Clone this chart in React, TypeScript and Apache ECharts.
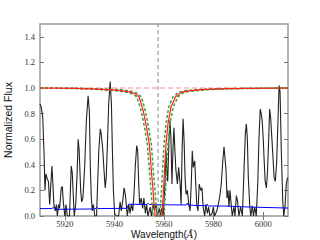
import React, { useEffect, useRef } from 'react';
import * as echarts from 'echarts';

const xTicks = [5920, 5940, 5960, 5980, 6000];
const yTicks = [0, 0.2, 0.4, 0.6, 0.8, 1.0, 1.2, 1.4];

const specWave = [
  5910.0, 5910.5, 5911.1, 5911.6, 5912.0, 5912.4, 5912.9, 5913.4, 5913.9, 5914.8,
  5915.2, 5915.6, 5916.2, 5916.6, 5917.0, 5917.5, 5917.9, 5918.6, 5919.0, 5919.4,
  5920.0, 5920.5, 5921.0, 5921.9, 5922.6, 5923.0, 5923.4, 5923.8, 5924.4, 5924.9,
  5925.4, 5925.8, 5926.4, 5926.8, 5927.3, 5928.0, 5928.7, 5929.4, 5929.9, 5930.3,
  5930.7, 5931.1, 5931.5, 5932.1, 5932.8, 5933.7, 5934.3, 5934.7, 5935.3, 5935.8,
  5936.3, 5936.7, 5937.1, 5937.7, 5938.3, 5938.8, 5939.2, 5939.6, 5940.1, 5940.8,
  5941.7, 5942.3, 5942.8, 5943.5, 5943.9, 5944.4, 5944.8, 5945.2, 5945.8, 5946.3,
  5946.8, 5947.4, 5947.9, 5948.4, 5949.0, 5949.4, 5949.8, 5950.2, 5950.8, 5951.4,
  5951.9, 5952.5, 5953.0, 5953.5, 5954.4, 5954.9, 5955.6, 5956.2, 5956.8, 5957.3,
  5958.1, 5958.6, 5959.0, 5959.7, 5960.4, 5960.8, 5961.1, 5961.5, 5962.0, 5962.4,
  5962.8, 5963.2, 5963.6, 5964.0, 5964.4, 5964.8, 5965.4, 5965.9, 5966.5, 5966.9,
  5967.3, 5967.7, 5968.1, 5968.5, 5968.9, 5969.4, 5970.0, 5970.5, 5971.0, 5971.4,
  5971.8, 5972.4, 5972.8, 5973.2, 5973.7, 5974.2, 5974.8, 5975.3, 5975.8, 5976.4,
  5976.9, 5977.5, 5978.0, 5978.5, 5979.4, 5979.9, 5980.4, 5981.3, 5982.1, 5982.6,
  5983.1, 5983.7, 5984.2, 5985.0, 5985.4, 5985.8, 5986.2, 5986.6, 5987.0, 5987.5,
  5988.2, 5988.6, 5989.2, 5989.7, 5990.2, 5990.9, 5991.6, 5992.3, 5992.8, 5993.2,
  5993.6, 5994.0, 5994.6, 5995.0, 5995.6, 5996.1, 5996.6, 5997.2, 5997.8, 5998.3,
  5998.8, 5999.2, 5999.6, 6000.0, 6000.4, 6000.8, 6001.3, 6001.7, 6002.2, 6002.6,
  6003.0, 6003.7, 6004.4, 6004.9, 6005.4, 6006.0, 6006.4, 6006.8, 6007.3, 6007.9,
  6008.3, 6008.8, 6009.3, 6009.7, 6010.0,
];
const specFlux = [
  0.875, 0.85, 0.77, 0.51, 0.2, 0.33, 0.29, 0.27, 0.09, 0.39,
  0.25, 0.09, 0.04, 0.09, 0.0, 0.09, 0.06, 0.22, 0.23, 0.11,
  0.0, 0.09, 0.0, 0.0, 0.39, 0.34, 0.17, 0.0, 0.09, 0.3,
  0.6, 0.51, 0.2, 0.11, 0.14, 0.38, 0.745, 0.94, 0.82, 0.38,
  0.14, 0.04, 0.09, 0.0, 0.0, 0.51, 0.68, 0.64, 0.52, 0.36,
  0.22, 0.3, 0.51, 0.875, 1.05, 0.875, 0.51, 0.2, 0.02, 0.0,
  0.0, 0.11, 0.04, 0.14, 0.22, 0.17, 0.09, 0.0, 0.09, 0.02,
  0.09, 0.04, 0.17, 0.38, 0.55, 0.51, 0.25, 0.09, 0.14, 0.06,
  0.14, 0.02, 0.09, 0.0, 0.07, 0.0, 0.09, 0.04, 0.09, 0.0,
  0.06, 0.0, 0.06, 0.0, 0.25, 0.51, 0.38, 0.27, 0.59, 0.745,
  0.61, 0.25, 0.51, 0.69, 0.51, 0.36, 0.25, 0.38, 0.25, 0.09,
  0.51, 0.76, 0.59, 0.3, 0.17, 0.2, 0.09, 0.04, 0.25, 0.51,
  0.38, 0.43, 0.25, 0.09, 0.04, 0.25, 0.2, 0.22, 0.07, 0.0,
  0.09, 0.02, 0.07, 0.0, 0.02, 0.07, 0.0, 0.04, 0.11, 0.17,
  0.25, 0.43, 0.54, 0.36, 0.14, 0.2, 0.07, 0.2, 0.11, 0.0,
  0.07, 0.0, 0.16, 0.11, 0.0, 0.07, 0.0, 0.38, 0.64, 0.72,
  0.61, 0.3, 0.07, 0.0, 0.08, 0.0, 0.07, 0.0, 0.25, 0.61,
  0.835, 0.8, 0.74, 0.61, 0.43, 0.27, 0.22, 0.33, 0.59, 0.835,
  0.77, 0.54, 0.3, 0.27, 0.41, 0.77, 1.02, 0.97, 0.51, 0.11,
  0.0, 0.07, 0.25, 0.29, 0.3,
];

const errWave = [
  5910, 5914.8, 5915.4, 5916.0, 5932.2, 5932.9, 5933.4, 5945.1, 5945.7, 5953.1,
  5953.5, 5954.0, 5958.4, 5968.9, 5969.4, 5969.8, 5977.0, 5977.4, 5977.8, 5984.2,
  5994.7, 6010,
];
const errFlux = [
  0.058, 0.058, 0.068, 0.052, 0.055, 0.068, 0.058, 0.06, 0.092, 0.09,
  0.1, 0.09, 0.088, 0.086, 0.1, 0.085, 0.08, 0.092, 0.078, 0.078,
  0.07, 0.062,
];

const modelWave = [
  5910, 5925, 5935, 5942, 5946, 5948.5, 5950.0, 5951.65, 5953.0, 5954.1,
  5954.8, 5955.5, 5956.0, 5956.4, 5959.2, 5959.7, 5960.3, 5960.8, 5961.6, 5962.8,
  5964.6, 5966.9, 5970, 5975, 5985, 6010,
];
const modelFlux = [
  1.0, 0.997, 0.99, 0.982, 0.97, 0.955, 0.93, 0.82, 0.69, 0.56,
  0.38, 0.22, 0.09, 0.0, 0.0, 0.17, 0.38, 0.56, 0.72, 0.85,
  0.93, 0.966, 0.977, 0.987, 0.995, 1.0,
];

const wideWave = [
  5910, 5925, 5935, 5942, 5946, 5947.8, 5949.1, 5950.8, 5952.2, 5953.3,
  5954.0, 5954.7, 5955.2, 5955.6, 5960.0, 5960.5, 5961.1, 5961.6, 5962.4, 5963.7,
  5965.6, 5968.0, 5971.5, 5976.5, 5986.5, 6010,
];
const wideFlux = [
  1.0, 0.995, 0.987, 0.976, 0.962, 0.948, 0.93, 0.82, 0.69, 0.56,
  0.38, 0.22, 0.09, 0.0, 0.0, 0.17, 0.38, 0.56, 0.72, 0.85,
  0.93, 0.966, 0.976, 0.986, 0.994, 1.0,
];

const narrowWave = [
  5910, 5925, 5935, 5942, 5946, 5949.2, 5950.9, 5952.5, 5953.8, 5954.9,
  5955.6, 5956.3, 5956.8, 5957.2, 5958.4, 5958.9, 5959.5, 5960.0, 5960.8, 5961.9,
  5963.6, 5965.8, 5968.5, 5973.5, 5983.5, 6010,
];
const narrowFlux = [
  1.0, 0.998, 0.993, 0.987, 0.978, 0.96, 0.93, 0.82, 0.69, 0.56,
  0.38, 0.22, 0.09, 0.0, 0.0, 0.17, 0.38, 0.56, 0.72, 0.85,
  0.93, 0.966, 0.978, 0.988, 0.996, 1.0,
];

const contWave = [5910, 6010];
const contFlux = [1.0, 1.0];
const centerWave = [5957.6, 5957.6];
const centerFlux = [0, 1.5];

const zip = (a: number[], b: number[]) => a.map((v, i) => [v, b[i]]);

const tickFont = 'Liberation Serif';
const labelFont = 'Liberation Sans';

export default function App() {
  const ref = useRef<HTMLDivElement>(null);
  useEffect(() => {
    if (!ref.current) return;
    const chart = echarts.init(ref.current, undefined, { renderer: 'svg' });
    const frame = '#999';
    const tickStyle = { color: '#777', width: 1 };
    const hiddenX = {
      type: 'value', min: 5910, max: 6010, position: 'top',
      axisLine: { show: false }, splitLine: { show: false },
      axisTick: { inside: true, length: 4, lineStyle: tickStyle, customValues: xTicks },
      axisLabel: { show: false },
    };
    const hiddenY = {
      type: 'value', min: 0, max: 1.5, position: 'right',
      axisLine: { show: false }, splitLine: { show: false },
      axisTick: { inside: true, length: 4, lineStyle: tickStyle, customValues: yTicks },
      axisLabel: { show: false },
    };
    const line = (data: number[][], color: string, width: number, type: any, z: number) => ({
      type: 'line', data, showSymbol: false, symbol: 'none', silent: true, z,
      lineStyle: { color, width, type },
      xAxisIndex: 0, yAxisIndex: 0,
    });
    chart.setOption({
      animation: false,
      grid: {
        left: 40, top: 24, width: 248, height: 192, show: true,
        outerBoundsMode: 'none', containLabel: false,
        borderColor: frame, borderWidth: 1.5, backgroundColor: 'transparent',
      },
      xAxis: [
        {
          type: 'value', min: 5910, max: 6010, position: 'bottom',
          axisLine: { show: false }, splitLine: { show: false },
          axisTick: { inside: true, length: 4, lineStyle: tickStyle, customValues: xTicks },
          axisLabel: {
            customValues: xTicks, color: '#333', fontFamily: tickFont, fontSize: 8.5, margin: 3,
            formatter: (v: number) => String(Math.round(v)),
          },
          name: 'Wavelength({i|Å})', nameLocation: 'middle', nameGap: 13, nameMoveOverlap: false,
          nameTextStyle: {
            fontFamily: labelFont, fontSize: 10, color: '#111',
            rich: { i: { fontFamily: 'DejaVu Serif', fontStyle: 'italic', fontSize: 9.5, color: '#111' } },
          },
        },
        hiddenX,
      ],
      yAxis: [
        {
          type: 'value', min: 0, max: 1.5, position: 'left',
          axisLine: { show: false }, splitLine: { show: false },
          axisTick: { inside: true, length: 4, lineStyle: tickStyle, customValues: yTicks },
          axisLabel: {
            customValues: yTicks, color: '#333', fontFamily: tickFont, fontSize: 8.5, margin: 5,
            formatter: (v: number) => v.toFixed(1),
          },
          name: 'Normalized Flux', nameLocation: 'middle', nameGap: 17,
          nameTextStyle: { fontFamily: labelFont, fontSize: 10.5, color: '#111' },
        },
        hiddenY,
      ],
      series: [
        line(zip(contWave, contFlux), '#ffb4b4', 1.5, [5, 3], 1),
        line(zip(specWave, specFlux), '#222222', 1.1, 'solid', 2),
        line(zip(errWave, errFlux), '#0000ff', 1, 'solid', 3),
        line(zip(wideWave, wideFlux), '#3f9f3f', 1.5, [3, 2], 4),
        line(zip(narrowWave, narrowFlux), '#3f9f3f', 1.5, [3, 2], 4),
        line(zip(modelWave, modelFlux), '#ff2020', 1.2, 'solid', 5),
        line(zip(centerWave, centerFlux), '#888888', 1, [4, 3], 6),
      ],
    });
    return () => chart.dispose();
  }, []);
  return (
    <div
      ref={ref}
      style={{ position: 'fixed', left: 0, top: 0, width: 320, height: 240, background: '#fff' }}
    />
  );
}
